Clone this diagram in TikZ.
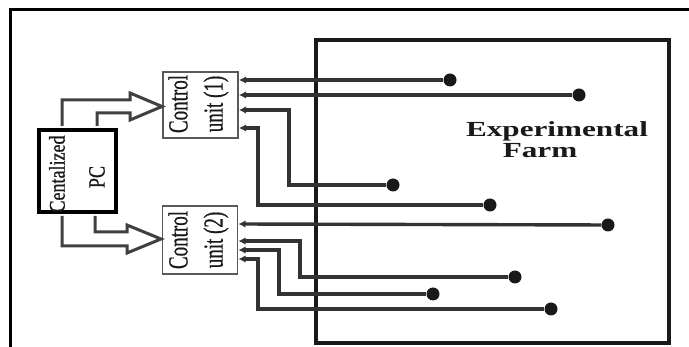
\documentclass[tikz,border=0pt]{standalone}
\usepackage{fontspec}
\setmainfont{Liberation Serif}
\newfontfamily\lblfont[FakeBold=0.8]{Liberation Serif}
\usetikzlibrary{arrows.meta,calc}
\begin{document}
\begin{tikzpicture}[x=1pt,y=-1pt,
  frame/.style={line width=3pt,black},
  farmbox/.style={draw=black!90,line width=4pt,inner sep=0pt},
  cubox/.style={draw=black!65,line width=1.8pt,minimum width=75pt,inner sep=0pt},
  pcbox/.style={draw=black,line width=4.5pt,minimum width=77pt,minimum height=82pt,inner sep=0pt},
  sig/.style={line width=3.4pt,black!80,line join=miter,-{Latex[length=7pt,width=7.5pt]}},
  hollow/.style={line width=3pt,black!75,line join=miter},
  dot/.style={circle,fill=black!90,inner sep=0pt,minimum size=13pt},
  lbl/.style={inner sep=0pt,black!90}
]
\useasboundingbox (0,0) rectangle (689,347);
\fill[white] (0,0) rectangle (689,347);
\draw[frame] (10.5,347) -- (10.5,10) -- (689,10);

% farm
\node[farmbox,minimum width=353pt,minimum height=303pt] (farm) at (492.5,191.5) {};
\node[lbl,anchor=base] (t7) at (557,137) {\scalebox{1.45}[1]{\fontsize{21.5}{21.5}\selectfont\bfseries Experimental}};
\node[lbl,anchor=base] (t8) at (540,158) {\scalebox{1.45}[1]{\fontsize{21.5}{21.5}\selectfont\bfseries Farm}};

% PC and control units
\node[pcbox] (pc) at (77.5,171) {};
\node[cubox,minimum height=66pt] (cu1) at (200.5,105) {};
\node[cubox,minimum height=68pt] (cu2) at (200,240) {};

\node[lbl] (t1) at (178,104) {\scalebox{1.45}[1]{\rotatebox{90}{\fontsize{19}{19}\lblfont Control}}};
\node[lbl] (t2) at (216,104) {\scalebox{1.45}[1]{\rotatebox{90}{\fontsize{19}{19}\lblfont unit (1)}}};
\node[lbl] (t3) at (178,240) {\scalebox{1.45}[1]{\rotatebox{90}{\fontsize{19}{19}\lblfont Control}}};
\node[lbl] (t4) at (216,240) {\scalebox{1.45}[1]{\rotatebox{90}{\fontsize{19}{19}\lblfont unit (2)}}};
\node[lbl] (t5) at (57,174) {\scalebox{1.25}[1]{\rotatebox{90}{\fontsize{18}{18}\lblfont Centalized}}};
\node[lbl] (t6) at (97,177) {\scalebox{1.3}[1]{\rotatebox{90}{\fontsize{18}{18}\lblfont PC}}};

% hollow arrows
\draw[hollow] (62,126) -- (62,100) -- (130,100) -- (130,93) -- (162,106.5) -- (130,120) -- (130,113) -- (97,113) -- (97,126);
\draw[hollow] (62,216) -- (62,246) -- (127,246) -- (127,253) -- (161,239) -- (127,225) -- (127,232) -- (95,232) -- (95,216);

% sensor dots
\node[dot] (d1) at (450,80) {};
\node[dot] (d2) at (579,95) {};
\node[dot] (d3) at (393,185) {};
\node[dot] (d4) at (490,205) {};
\node[dot] (d5) at (608,225) {};
\node[dot] (d6) at (515,277) {};
\node[dot] (d7) at (433,294) {};
\node[dot] (d8) at (551,309) {};

% ends at the control units
\coordinate (a1) at (239,80);
\coordinate (a2) at (239,95);
\coordinate (a3) at (239,110);
\coordinate (a4) at (239,128);
\coordinate (b1) at (238.5,224);
\coordinate (b2) at (238.5,241);
\coordinate (b3) at (238.5,250);
\coordinate (b4) at (238.5,259);
% bends
\coordinate (k3) at (289,150);
\coordinate (k4) at (258,160);
\coordinate (k6) at (300,260);
\coordinate (k7) at (279,270);
\coordinate (k8) at (258,280);

\draw[sig] (d1) -- (a1);
\draw[sig] (d2) -- (a2);
\draw[sig] (d3) -| (k3) |- (a3);
\draw[sig] (d4) -| (k4) |- (a4);
\draw[sig] (d5) -- (b1);
\draw[sig] (d6) -| (k6) |- (b2);
\draw[sig] (d7) -| (k7) |- (b3);
\draw[sig] (d8) -| (k8) |- (b4);
\end{tikzpicture}
\end{document}
